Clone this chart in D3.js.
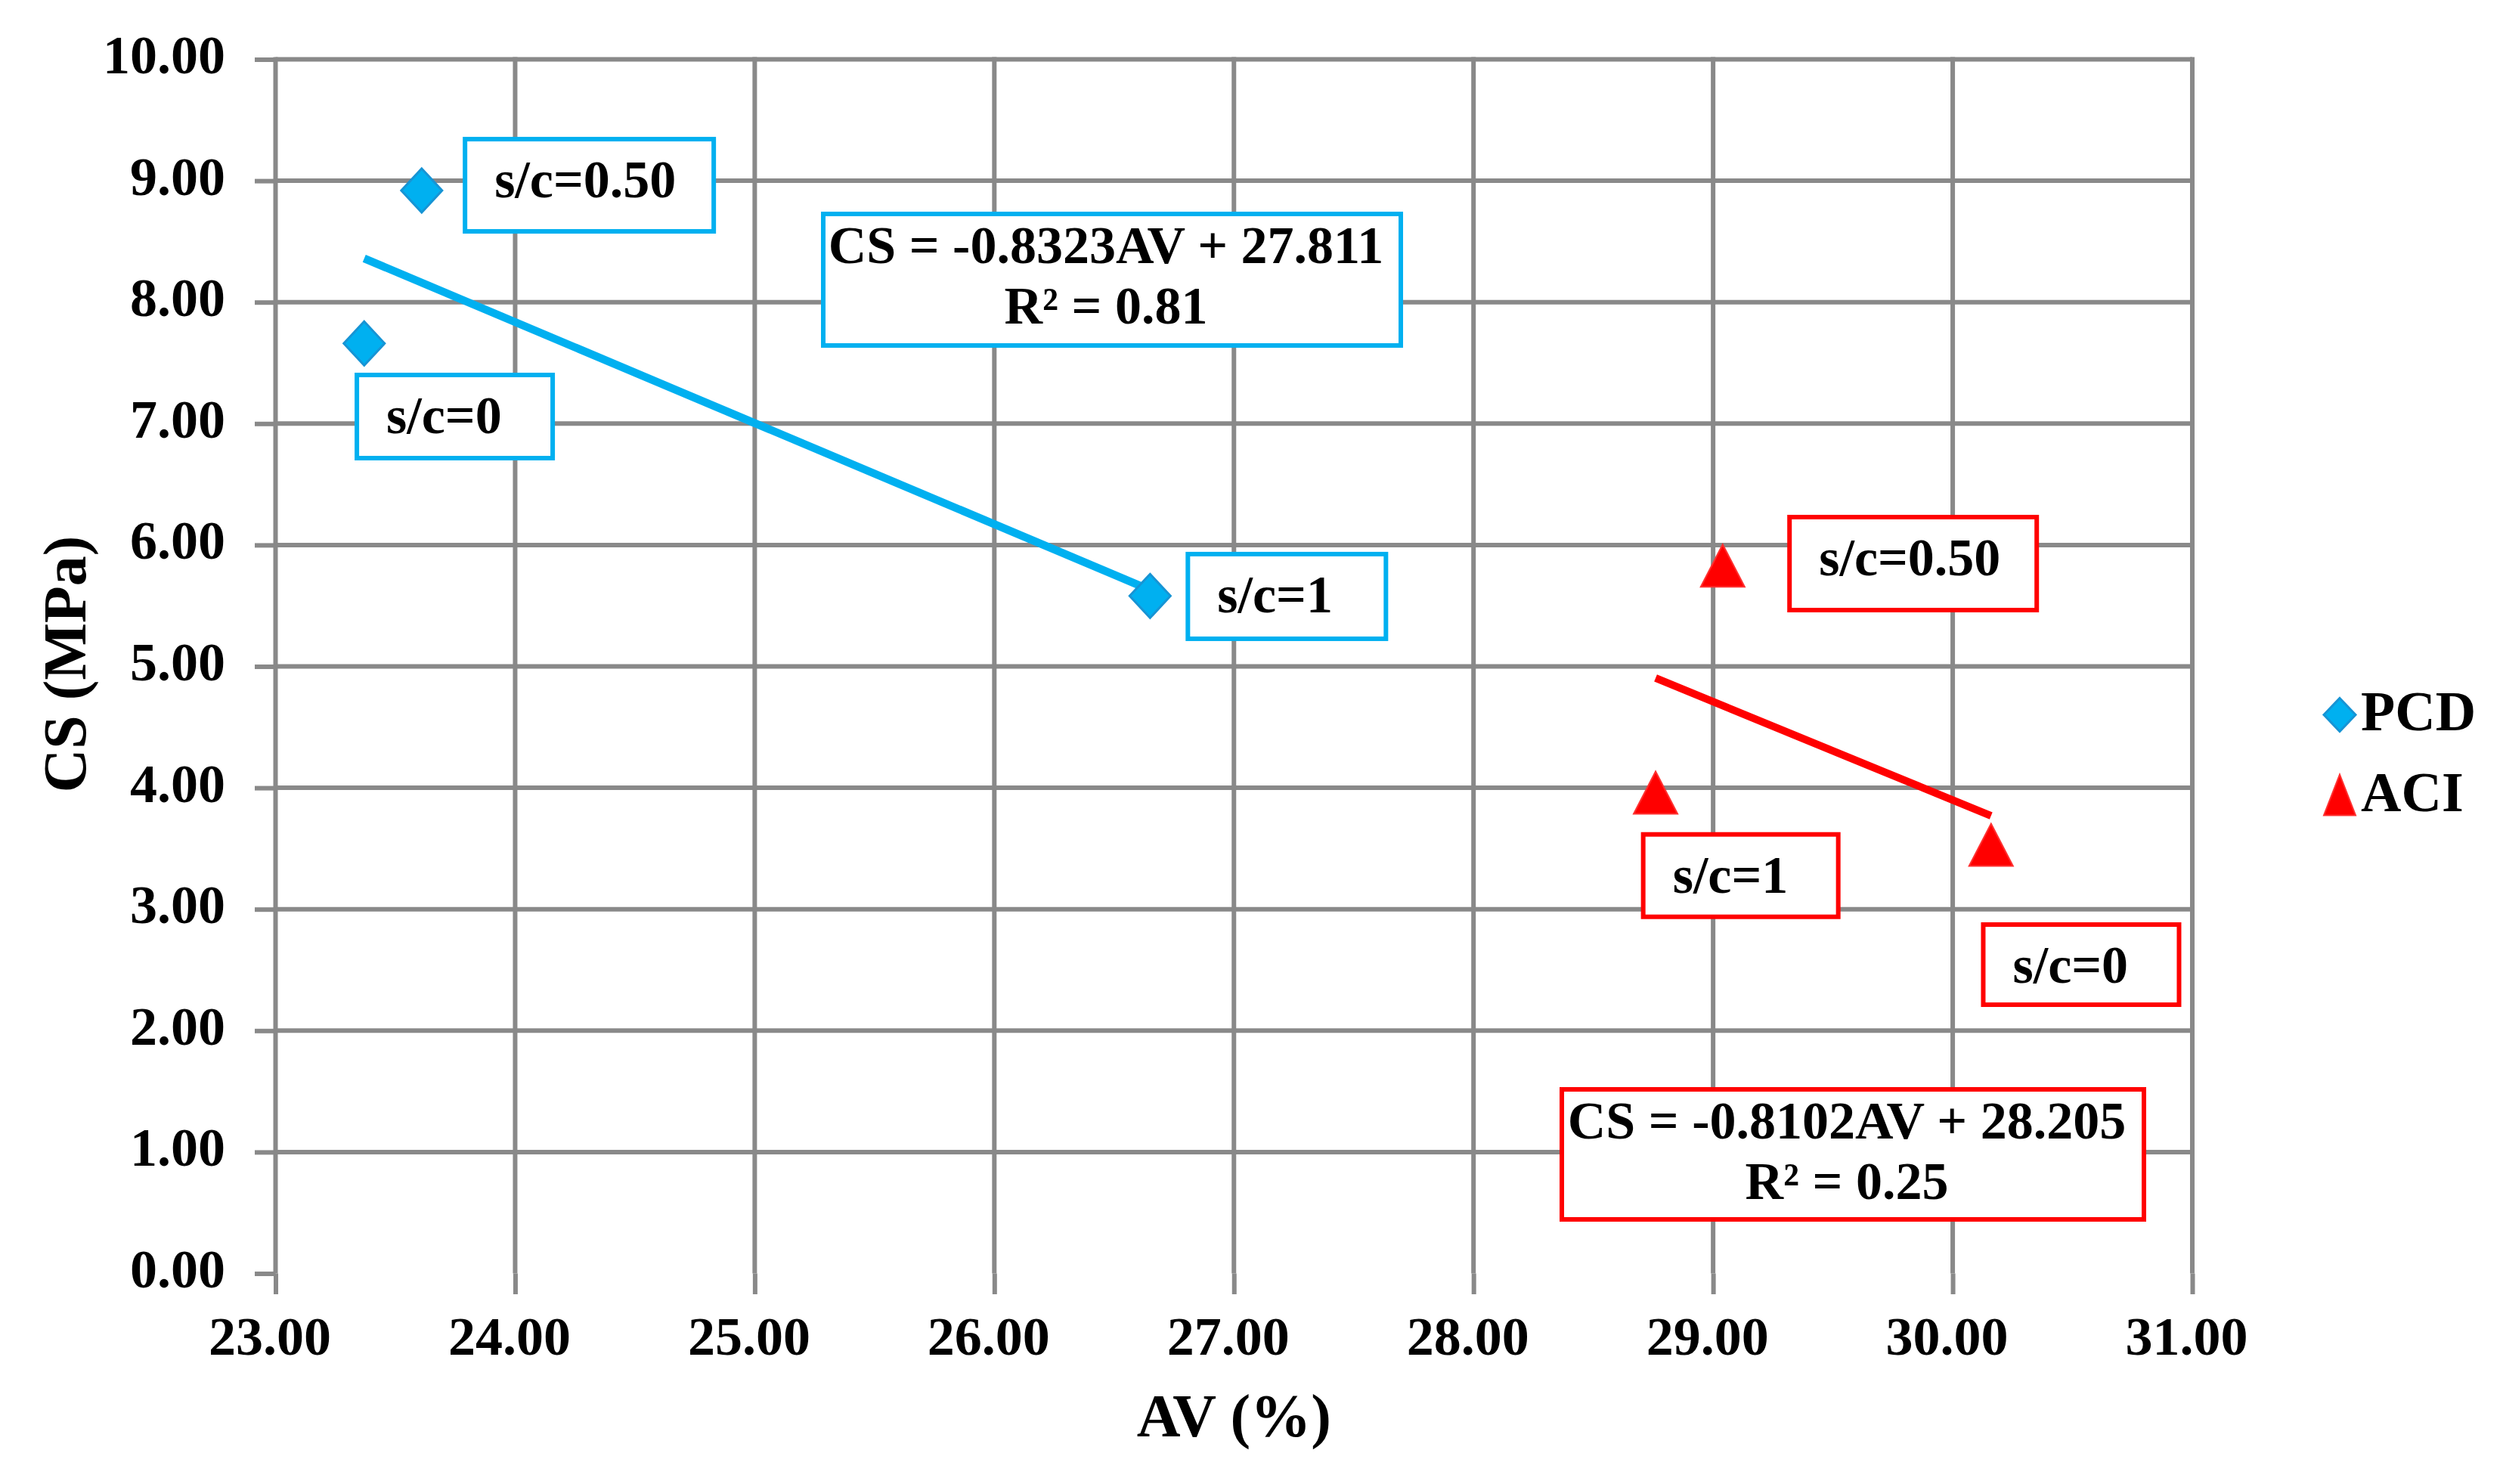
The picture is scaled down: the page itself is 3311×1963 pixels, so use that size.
<!DOCTYPE html>
<html>
<head>
<meta charset="utf-8">
<script src="https://cdn.jsdelivr.net/npm/d3@7"></script>
<style>
  html, body { margin: 0; padding: 0; background: #fff; }
  svg { display: block; }
  text { font-family: "Liberation Serif", "Times New Roman", serif; font-weight: bold; fill: #000; }
</style>
</head>
<body>
<svg id="chart" width="3311" height="1963"></svg>
<script>
// ---------------- data ----------------
const xTicks = [23, 24, 25, 26, 27, 28, 29, 30, 31];
const yTicks = [0, 1, 2, 3, 4, 5, 6, 7, 8, 9, 10];

const pcdAV = [23.37, 23.61, 26.65];
const pcdCS = [7.66, 8.92, 5.58];
const pcdLabels = ["s/c=0", "s/c=0.50", "s/c=1"];

const aciAV = [28.76, 29.04, 30.16];
const aciCS = [3.96, 5.83, 3.53];
const aciLabels = ["s/c=1", "s/c=0.50", "s/c=0"];

const pcdFit = [-0.8323, 27.811];   // slope, intercept
const aciFit = [-0.8102, 28.205];
const pcdEqText = ["CS = -0.8323AV + 27.811", "R² = 0.81"];
const aciEqText = ["CS = -0.8102AV + 28.205", "R² = 0.25"];

const seriesNames = ["PCD", "ACI"];
const xTitle = "AV (%)";
const yTitle = "CS (MPa)";

// ---------------- layout ----------------
const BLUE = "#00B0F0", BLUE_EDGE = "#1794D4", RED = "#FF0000", GRID = "#898989";
const plot = { left: 364.5, right: 2900, top: 78.5, bottom: 1684.5 };
// label box offsets (pixels, box top-left relative to marker) and sizes
const pcdLabelBox = [
  { dx: -12.7, dy: 38.7, w: 265, h: 116 },
  { dx: 54.3, dy: -70.9, w: 335, h: 128 },
  { dx: 47, dy: -58.4, w: 268, h: 118 }
];
const aciLabelBox = [
  { dx: -19.4, dy: 52.2, w: 264, h: 115 },
  { dx: 85.4, dy: -67.2, w: 333, h: 129 },
  { dx: -13.3, dy: 102.4, w: 265, h: 112 }
];
const pcdEqBox = { left: 1086, top: 280, w: 770, h: 180 };
const aciEqBox = { left: 2063, top: 1438, w: 776, h: 178 };

const svg = d3.select("#chart");
const x = d3.scaleLinear().domain([23, 31]).range([plot.left, plot.right]);
const y = d3.scaleLinear().domain([0, 10]).range([plot.bottom, plot.top]);

// ---------------- grid ----------------
const grid = svg.append("g");
grid.selectAll("line.h").data(yTicks.filter(v => v > 0)).join("line")
  .attr("x1", x(23)).attr("x2", x(31))
  .attr("y1", d => y(d)).attr("y2", d => y(d))
  .attr("stroke", GRID).attr("stroke-width", 6);
grid.selectAll("line.v").data(xTicks).join("line")
  .attr("x1", d => x(d)).attr("x2", d => x(d))
  .attr("y1", y(10) - 3).attr("y2", y(0))
  .attr("stroke", GRID).attr("stroke-width", 6);

// ---------------- axes ----------------
const fmt = d3.format(".2f");
const yAxis = svg.append("g").attr("transform", `translate(${plot.left},0)`)
  .call(d3.axisLeft(y).tickValues(yTicks).tickSize(27.5).tickPadding(39).tickFormat(fmt));
yAxis.select(".domain").remove();
yAxis.selectAll(".tick line").attr("stroke", GRID).attr("stroke-width", 6);
yAxis.selectAll(".tick text").attr("font-size", 72).attr("fill", "#000").attr("y", -5)
  .attr("font-family", "Liberation Serif, Times New Roman, serif").attr("font-weight", "bold");

const xAxis = svg.append("g").attr("transform", `translate(0,${plot.bottom})`)
  .call(d3.axisBottom(x).tickValues(xTicks).tickSize(27.5).tickPadding(29).tickFormat(fmt));
xAxis.select(".domain").remove();
xAxis.selectAll(".tick line").attr("stroke", GRID).attr("stroke-width", 6);
xAxis.selectAll(".tick text").attr("font-size", 72).attr("fill", "#000").attr("dx", -8)
  .attr("font-family", "Liberation Serif, Times New Roman, serif").attr("font-weight", "bold");

// axis titles
svg.append("text").attr("x", (plot.left + plot.right) / 2).attr("y", 1900)
  .attr("text-anchor", "middle").attr("font-size", 80).text(xTitle);
svg.append("text").attr("transform", `translate(113,${(plot.top + plot.bottom) / 2 - 3}) rotate(-90)`)
  .attr("text-anchor", "middle").attr("font-size", 80).text(yTitle);

// ---------------- trendlines ----------------
function fitLine(avs, fit) {
  const lo = d3.min(avs), hi = d3.max(avs);
  return [[lo, fit[0] * lo + fit[1]], [hi, fit[0] * hi + fit[1]]];
}
const lineGen = d3.line().x(d => x(d[0])).y(d => y(d[1]));
svg.append("path").attr("d", lineGen(fitLine(pcdAV, pcdFit)))
  .attr("stroke", BLUE).attr("stroke-width", 10.5).attr("fill", "none");
svg.append("path").attr("d", lineGen(fitLine(aciAV, aciFit)))
  .attr("stroke", RED).attr("stroke-width", 10).attr("fill", "none");

// ---------------- markers ----------------
function diamondPath(w, h) {
  return `M0,${-h / 2}L${w / 2},0L0,${h / 2}L${-w / 2},0Z`;
}
function trianglePath(w, h) {
  return `M0,${-h / 2}L${w / 2},${h / 2}L${-w / 2},${h / 2}Z`;
}
const pcdPts = pcdAV.map((v, i) => ({ av: v, cs: pcdCS[i], label: pcdLabels[i], box: pcdLabelBox[i] }));
const aciPts = aciAV.map((v, i) => ({ av: v, cs: aciCS[i], label: aciLabels[i], box: aciLabelBox[i] }));

svg.append("g").selectAll("path").data(pcdPts).join("path")
  .attr("transform", d => `translate(${x(d.av)},${y(d.cs)})`)
  .attr("d", diamondPath(54, 58))
  .attr("fill", BLUE).attr("stroke", BLUE_EDGE).attr("stroke-width", 3);
svg.append("g").selectAll("path").data(aciPts).join("path")
  .attr("transform", d => `translate(${x(d.av)},${y(d.cs)})`)
  .attr("d", trianglePath(58, 56))
  .attr("fill", RED).attr("stroke", "#ff3030").attr("stroke-width", 2);

// ---------------- point labels ----------------
function drawLabels(pts, color) {
  const g = svg.append("g").selectAll("g").data(pts).join("g")
    .attr("transform", d => `translate(${x(d.av) + d.box.dx},${y(d.cs) + d.box.dy})`);
  g.append("rect").attr("x", 3).attr("y", 3)
    .attr("width", d => d.box.w - 6).attr("height", d => d.box.h - 6)
    .attr("fill", "#fff").attr("stroke", color).attr("stroke-width", 6);
  g.append("text").attr("x", 42).attr("y", 80).attr("font-size", 70).text(d => d.label);
}
drawLabels(pcdPts, BLUE);
drawLabels(aciPts, RED);

// ---------------- equation boxes ----------------
function drawEq(box, lines, color) {
  const g = svg.append("g").attr("transform", `translate(${box.left},${box.top})`);
  g.append("rect").attr("x", 3).attr("y", 3).attr("width", box.w - 6).attr("height", box.h - 6)
    .attr("fill", "#fff").attr("stroke", color).attr("stroke-width", 6);
  g.selectAll("text").data(lines).join("text")
    .attr("x", box.w / 2 - 8).attr("y", (d, i) => 68 + i * 80)
    .attr("text-anchor", "middle").attr("font-size", 70).text(d => d);
}
drawEq(pcdEqBox, pcdEqText, BLUE);
drawEq(aciEqBox, aciEqText, RED);

// ---------------- legend ----------------
const legend = svg.append("g");
legend.append("path").attr("transform", "translate(3095,945.5)").attr("d", diamondPath(42, 44))
  .attr("fill", BLUE).attr("stroke", BLUE_EDGE).attr("stroke-width", 3);
legend.append("text").attr("x", 3123).attr("y", 966).attr("font-size", 74).text(seriesNames[0]);
legend.append("path").attr("transform", "translate(3095,1051.5)").attr("d", trianglePath(42, 54))
  .attr("fill", RED).attr("stroke", "#ff3030").attr("stroke-width", 2);
legend.append("text").attr("x", 3123).attr("y", 1073).attr("font-size", 74).text(seriesNames[1]);
</script>
</body>
</html>
